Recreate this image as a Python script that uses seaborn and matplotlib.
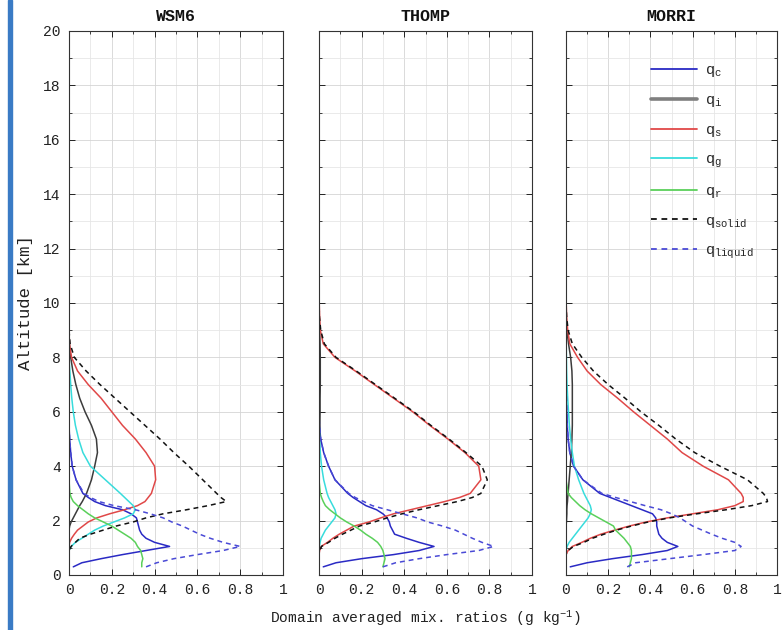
import matplotlib
matplotlib.use("Agg")
import matplotlib.pyplot as plt
from matplotlib.lines import Line2D
from matplotlib.patches import Rectangle
from matplotlib.ticker import MultipleLocator
import seaborn as sns

# Model levels (km) shared by all profiles
ALT = [0.3, 0.45, 0.6, 0.75, 0.9, 1.05, 1.2, 1.35, 1.5, 1.65, 1.8, 1.95, 2.1,
       2.25, 2.4, 2.55, 2.7, 2.85, 3.0, 3.5, 4.0, 4.5, 5.0, 5.5, 6.0, 6.5,
       7.0, 7.5, 8.0, 8.5, 9.0, 9.5, 10.0]

SCHEMES = ["WSM6", "THOMP", "MORRI"]

# ---- WSM6 (g/kg) ----
WSM6_QC = [0.02, 0.06, 0.15, 0.25, 0.36, 0.47, 0.40, 0.36, 0.34, 0.33, 0.325, 0.32, 0.315,
           0.29, 0.25, 0.17, 0.12, 0.09, 0.065, 0.033, 0.015, 0.008, 0.003, 0, 0, 0,
           0, 0, 0, 0, 0, 0, 0]
WSM6_QI = [0, 0, 0, 0, 0, 0, 0, 0, 0, 0, 0.003, 0.01, 0.02,
           0.03, 0.04, 0.05, 0.062, 0.072, 0.082, 0.105, 0.12, 0.133, 0.128, 0.105, 0.075, 0.05,
           0.032, 0.018, 0.008, 0.002, 0, 0, 0]
WSM6_QS = [0, 0, 0, 0, 0, 0, 0.003, 0.012, 0.025, 0.04, 0.065, 0.09, 0.13,
           0.19, 0.26, 0.32, 0.355, 0.37, 0.385, 0.405, 0.40, 0.36, 0.31, 0.25, 0.20, 0.15,
           0.09, 0.04, 0.012, 0.002, 0, 0, 0]
WSM6_QG = [0, 0, 0, 0, 0, 0.01, 0.03, 0.06, 0.09, 0.12, 0.16, 0.21, 0.26,
           0.30, 0.31, 0.30, 0.28, 0.26, 0.24, 0.17, 0.10, 0.065, 0.045, 0.03, 0.02, 0.013,
           0.008, 0.004, 0, 0, 0, 0, 0]
WSM6_QR = [0.34, 0.34, 0.345, 0.34, 0.335, 0.32, 0.31, 0.29, 0.26, 0.23, 0.20, 0.16, 0.12,
           0.09, 0.065, 0.04, 0.02, 0.01, 0.004, 0, 0, 0, 0, 0, 0, 0,
           0, 0, 0, 0, 0, 0, 0]
WSM6_QSOLID = [0, 0, 0, 0, 0, 0.01, 0.03, 0.05, 0.10, 0.16, 0.22, 0.30, 0.36,
               0.44, 0.55, 0.65, 0.735, 0.71, 0.69, 0.625, 0.56, 0.49, 0.425, 0.355, 0.285, 0.215,
               0.145, 0.08, 0.025, 0.005, 0, 0, 0]
WSM6_QLIQUID = [0.36, 0.41, 0.49, 0.60, 0.72, 0.80, 0.72, 0.66, 0.61, 0.57, 0.53, 0.48, 0.44,
                0.38, 0.31, 0.21, 0.14, 0.10, 0.07, 0.033, 0.015, 0.008, 0.003, 0, 0, 0,
                0, 0, 0, 0, 0, 0, 0]

# ---- THOMP (g/kg) ----
THOMP_QC = [0.02, 0.08, 0.20, 0.35, 0.47, 0.54, 0.47, 0.41, 0.355, 0.345, 0.335, 0.33, 0.32,
            0.30, 0.27, 0.22, 0.19, 0.16, 0.135, 0.075, 0.045, 0.022, 0.008, 0.002, 0, 0,
            0, 0, 0, 0, 0, 0, 0]
THOMP_QI = [0, 0, 0, 0, 0, 0, 0, 0, 0, 0, 0, 0, 0,
            0, 0, 0, 0, 0, 0, 0, 0.001, 0.002, 0.003, 0.004, 0.005, 0.005,
            0.006, 0.006, 0.006, 0.005, 0.003, 0.001, 0]
THOMP_QS = [0, 0, 0, 0, 0.003, 0.01, 0.04, 0.065, 0.095, 0.13, 0.165, 0.235, 0.29,
            0.35, 0.43, 0.51, 0.59, 0.66, 0.71, 0.76, 0.75, 0.685, 0.605, 0.52, 0.44, 0.35,
            0.26, 0.17, 0.075, 0.02, 0.006, 0.003, 0.001]
THOMP_QG = [0, 0, 0, 0, 0, 0.002, 0.005, 0.01, 0.02, 0.03, 0.045, 0.06, 0.075,
            0.08, 0.075, 0.065, 0.055, 0.045, 0.038, 0.022, 0.012, 0.006, 0.003, 0.001, 0, 0,
            0, 0, 0, 0, 0, 0, 0]
THOMP_QR = [0.30, 0.305, 0.31, 0.305, 0.30, 0.29, 0.275, 0.25, 0.22, 0.195, 0.165, 0.13, 0.10,
            0.075, 0.05, 0.03, 0.02, 0.012, 0.006, 0, 0, 0, 0, 0, 0, 0,
            0, 0, 0, 0, 0, 0, 0]
THOMP_QSOLID = [0, 0, 0, 0, 0.003, 0.012, 0.045, 0.075, 0.11, 0.15, 0.19, 0.26, 0.32,
                0.39, 0.47, 0.56, 0.65, 0.72, 0.76, 0.79, 0.765, 0.69, 0.61, 0.525, 0.445, 0.355,
                0.265, 0.175, 0.08, 0.025, 0.008, 0.002, 0]
THOMP_QLIQUID = [0.30, 0.36, 0.47, 0.60, 0.75, 0.82, 0.765, 0.72, 0.68, 0.64, 0.58, 0.51, 0.46,
                 0.39, 0.32, 0.25, 0.21, 0.17, 0.14, 0.075, 0.045, 0.022, 0.008, 0.002, 0, 0,
                 0, 0, 0, 0, 0, 0, 0]

# ---- MORRI (g/kg) ----
MORRI_QC = [0.02, 0.10, 0.22, 0.36, 0.48, 0.53, 0.48, 0.455, 0.44, 0.435, 0.43, 0.43, 0.425,
            0.41, 0.36, 0.31, 0.26, 0.21, 0.16, 0.08, 0.036, 0.018, 0.01, 0.006, 0.004, 0.002,
            0.001, 0, 0, 0, 0, 0, 0]
MORRI_QI = [0, 0, 0, 0, 0, 0, 0, 0, 0, 0, 0, 0.002, 0.003,
            0.004, 0.004, 0.005, 0.007, 0.008, 0.01, 0.015, 0.02, 0.025, 0.028, 0.03, 0.03, 0.03,
            0.03, 0.028, 0.022, 0.012, 0.004, 0.001, 0]
MORRI_QS = [0, 0, 0, 0, 0.01, 0.03, 0.075, 0.115, 0.165, 0.23, 0.30, 0.38, 0.48,
            0.60, 0.72, 0.80, 0.84, 0.84, 0.83, 0.77, 0.65, 0.55, 0.48, 0.40, 0.32, 0.245,
            0.165, 0.10, 0.055, 0.018, 0.008, 0.003, 0.001]
MORRI_QG = [0, 0, 0, 0, 0, 0.005, 0.015, 0.03, 0.045, 0.06, 0.075, 0.09, 0.105,
            0.115, 0.12, 0.115, 0.105, 0.095, 0.085, 0.06, 0.04, 0.03, 0.022, 0.016, 0.012, 0.008,
            0.005, 0.003, 0.002, 0.001, 0, 0, 0]
MORRI_QR = [0.30, 0.305, 0.31, 0.31, 0.31, 0.305, 0.29, 0.275, 0.255, 0.235, 0.225, 0.19, 0.155,
            0.12, 0.09, 0.065, 0.045, 0.025, 0.01, 0, 0, 0, 0, 0, 0, 0,
            0, 0, 0, 0, 0, 0, 0]
MORRI_QSOLID = [0, 0, 0, 0, 0.01, 0.035, 0.085, 0.125, 0.18, 0.24, 0.31, 0.39, 0.49,
                0.62, 0.76, 0.88, 0.955, 0.95, 0.935, 0.86, 0.73, 0.61, 0.52, 0.44, 0.355, 0.28,
                0.20, 0.13, 0.075, 0.03, 0.01, 0.003, 0]
MORRI_QLIQUID = [0.29, 0.33, 0.49, 0.65, 0.80, 0.83, 0.80, 0.74, 0.69, 0.645, 0.60, 0.57, 0.54,
                 0.50, 0.45, 0.375, 0.305, 0.235, 0.17, 0.08, 0.036, 0.018, 0.01, 0.006, 0.004, 0.002,
                 0.001, 0, 0, 0, 0, 0, 0]

PROFILES = {
    "WSM6": [WSM6_QC, WSM6_QI, WSM6_QS, WSM6_QG, WSM6_QR, WSM6_QSOLID, WSM6_QLIQUID],
    "THOMP": [THOMP_QC, THOMP_QI, THOMP_QS, THOMP_QG, THOMP_QR, THOMP_QSOLID, THOMP_QLIQUID],
    "MORRI": [MORRI_QC, MORRI_QI, MORRI_QS, MORRI_QG, MORRI_QR, MORRI_QSOLID, MORRI_QLIQUID],
}

LABELS = [r"$q_c$", r"$q_i$", r"$q_s$", r"$q_g$", r"$q_r$", r"$q_{solid}$", r"$q_{liquid}$"]
COLORS = ["#2a2ac4", "#3c3c3c", "#e04848", "#38dcdc", "#5ad05a", "#111111", "#4a4ad6"]
DASH = (0, (3.2, 2.6))
STYLES = ["-", "-", "-", "-", "-", DASH, DASH]
WIDTHS = [1.1, 1.1, 1.1, 1.1, 1.1, 1.1, 1.1]

X_TICKS = [0, 0.2, 0.4, 0.6, 0.8, 1]
X_TICKLABELS = ["0", "0.2", "0.4", "0.6", "0.8", "1"]
Y_TICKS = list(range(0, 21, 2))

sns.set_style("ticks")
MONO = "Liberation Mono"
plt.rcParams["font.family"] = [MONO, "DejaVu Sans Mono"]
plt.rcParams["mathtext.fontset"] = "custom"
plt.rcParams["mathtext.rm"] = MONO
plt.rcParams["mathtext.it"] = MONO
plt.rcParams["mathtext.bf"] = MONO + ":bold"
plt.rcParams["axes.unicode_minus"] = True

fig = plt.figure(figsize=(7.84, 6.30), dpi=100)

W, H = 784.0, 630.0
panel_px = [(69, 283), (319, 532), (566, 777)]
top_px, bot_px = 31, 575

axes = []
for (l, r), name in zip(panel_px, SCHEMES):
    ax = fig.add_axes([l / W, 1 - bot_px / H, (r - l) / W, (bot_px - top_px) / H])
    axes.append(ax)
    for vals, col, ls, lw in zip(PROFILES[name], COLORS, STYLES, WIDTHS):
        sns.lineplot(x=vals, y=ALT, sort=False, estimator=None, color=col,
                     linestyle=ls, linewidth=lw, ax=ax, legend=False)
    ax.set_xlim(0, 1)
    ax.set_ylim(0, 20)
    ax.set_xticks(X_TICKS)
    ax.set_xticklabels(X_TICKLABELS)
    ax.set_yticks(Y_TICKS)
    ax.xaxis.set_minor_locator(MultipleLocator(0.1))
    ax.yaxis.set_minor_locator(MultipleLocator(1))
    ax.grid(which="major", color="#d4d4d4", linewidth=0.6)
    ax.grid(which="minor", color="#e6e6e6", linewidth=0.6)
    ax.set_axisbelow(True)
    ax.tick_params(which="both", direction="in", top=True, right=True,
                   labelsize=10.5, colors="#222222", pad=6)
    ax.tick_params(which="major", length=4, width=0.7)
    ax.tick_params(which="minor", length=2.5, width=0.6)
    for sp in ax.spines.values():
        sp.set_color("#333333")
        sp.set_linewidth(0.8)
    ax.set_title(name, fontsize=12, fontweight="bold", pad=7, color="#111111")
    ax.set_xlabel("")
    if name != "WSM6":
        ax.set_yticklabels([])
    else:
        ax.set_ylabel("Altitude [km]", fontsize=12.5, labelpad=7, color="#222222")

fig.text(425 / W, 1 - 618 / H, r"Domain averaged mix. ratios (g kg$^{-1}$)",
         ha="center", va="center", fontsize=10.5, color="#222222")

handles = [Line2D([], [], color=c, linestyle=s, linewidth=(2.6 if i == 1 else 1.3))
           for i, (c, s) in enumerate(zip(COLORS, STYLES))]
handles[1].set_color("#7f7f7f")
axes[2].legend(handles, LABELS, loc="upper right", bbox_to_anchor=(0.94, 0.96),
               frameon=False, fontsize=11, handlelength=3.0, handletextpad=0.5,
               labelspacing=0.9, borderaxespad=0.3)

# Page margin bar on the left edge
fig.patches.append(Rectangle((7.5 / W, 0), 4 / W, 1, transform=fig.transFigure,
                             color="#3a7bc5", zorder=5))

fig.savefig("out.png", dpi=100)
